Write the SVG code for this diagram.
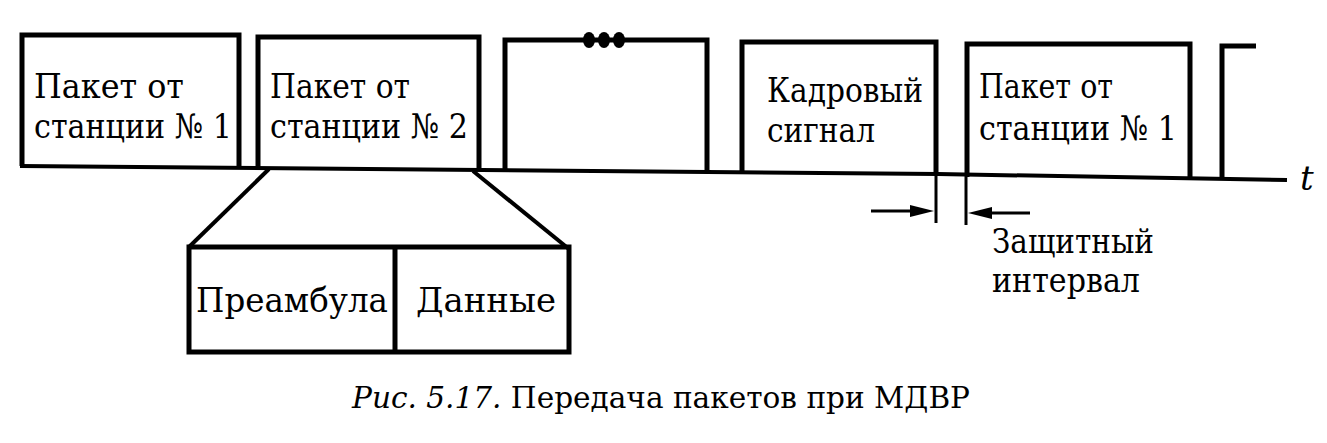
<svg xmlns="http://www.w3.org/2000/svg" width="1327" height="443" viewBox="0 0 1327 443">
<style>
.b{fill:none;stroke:#000;stroke-width:5;stroke-linejoin:miter}
.l{fill:none;stroke:#000;stroke-width:4}
.a{fill:none;stroke:#000;stroke-width:3}
.h{fill:#000;stroke:none}
.t{font-family:"DejaVu Serif",serif;font-size:34px;fill:#000}
.c{font-family:"DejaVu Serif",serif;font-size:30px;fill:#000}
</style>
<rect width="1327" height="443" fill="#fff"/>
<g id="axis">
<polyline class="l" points="20,166 938,174 1287,180"/>
<text x="1300" y="190" class="t" font-style="italic">t</text>
</g>
<g id="packet1">
<polyline class="b" points="22,166 22,35 239,35 239,166"/>
<text x="34" y="98" class="t" textLength="150" lengthAdjust="spacingAndGlyphs">Пакет от</text>
<text x="34" y="138" class="t" textLength="198" lengthAdjust="spacingAndGlyphs">станции № 1</text>
</g>
<g id="packet2">
<polyline class="b" points="258,168 258,37 479,37 479,170"/>
<text x="270" y="98" class="t" textLength="140" lengthAdjust="spacingAndGlyphs">Пакет от</text>
<text x="270" y="138" class="t" textLength="198" lengthAdjust="spacingAndGlyphs">станции № 2</text>
</g>
<g id="packet3">
<polyline class="b" points="505,171 505,40 707,40 707,172"/>
<ellipse cx="589" cy="40" rx="6" ry="8" class="h"/>
<ellipse cx="604" cy="40" rx="6" ry="8" class="h"/>
<ellipse cx="619" cy="40" rx="6" ry="8" class="h"/>
</g>
<g id="frame">
<polyline class="b" points="742,173 742,42 936,42 936,174"/>
<text x="767" y="102" class="t" textLength="156" lengthAdjust="spacingAndGlyphs">Кадровый</text>
<text x="767" y="142" class="t" textLength="108" lengthAdjust="spacingAndGlyphs">сигнал</text>
</g>
<g id="packet5">
<polyline class="b" points="967,177 967,44 1190,44 1190,178"/>
<text x="979" y="98" class="t" textLength="134" lengthAdjust="spacingAndGlyphs">Пакет от</text>
<text x="979" y="140" class="t" textLength="198" lengthAdjust="spacingAndGlyphs">станции № 1</text>
</g>
<g id="packet6">
<polyline class="b" points="1222,179 1222,46 1256,46"/>
</g>
<g id="expanded">
<rect class="b" x="189" y="247" width="380" height="105"/>
<line class="b" x1="395" y1="247" x2="395" y2="352"/>
<text x="196" y="312" class="t" textLength="192" lengthAdjust="spacingAndGlyphs">Преамбула</text>
<text x="416" y="312" class="t" textLength="140" lengthAdjust="spacingAndGlyphs">Данные</text>
</g>
<g id="connectors">
<line class="l" x1="269" y1="169" x2="189" y2="247"/>
<line class="l" x1="473" y1="171" x2="569" y2="249"/>
<line class="a" x1="936" y1="174" x2="936" y2="223"/>
<line class="a" x1="966" y1="177" x2="966" y2="225"/>
<line class="a" x1="871" y1="211" x2="912" y2="211"/>
<polygon class="h" points="910,205 934,211 910,217"/>
<line class="a" x1="1030" y1="213" x2="990" y2="213"/>
<polygon class="h" points="992,207 968,213 992,219"/>
</g>
<g id="guard">
<text x="992" y="253" class="t" textLength="162" lengthAdjust="spacingAndGlyphs">Защитный</text>
<text x="992" y="292" class="t" textLength="148" lengthAdjust="spacingAndGlyphs">интервал</text>
</g>
<g id="caption">
<text x="352" y="408" class="c" textLength="618" lengthAdjust="spacingAndGlyphs"><tspan font-style="italic">Рис. 5.17.</tspan> Передача пакетов при МДВР</text>
</g>
</svg>
